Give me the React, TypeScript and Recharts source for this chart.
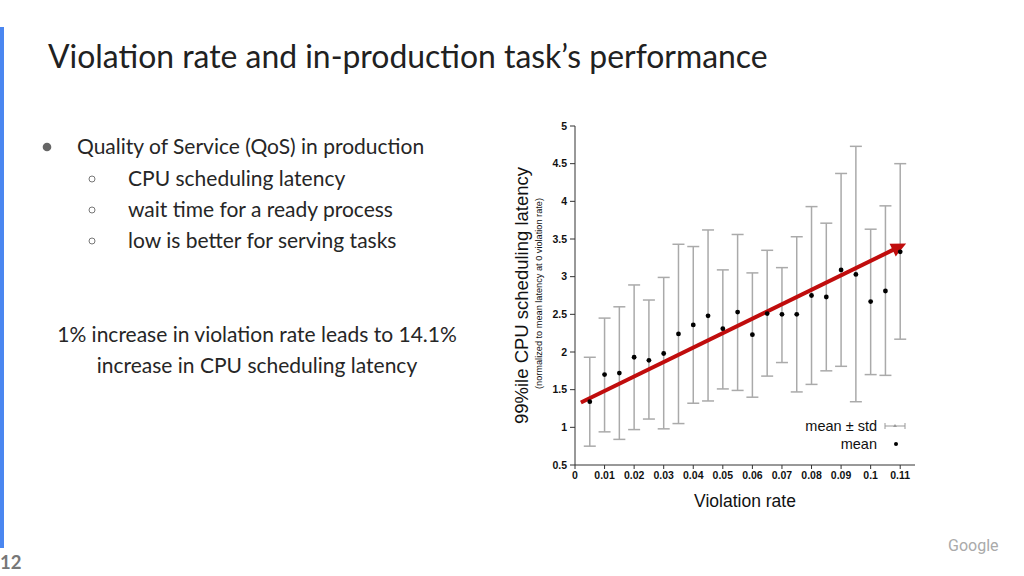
import {
  ErrorBar,
  Label,
  ReferenceLine,
  Scatter,
  ScatterChart,
  XAxis,
  YAxis,
} from "recharts";

// violation rate buckets and the latency stats
const violationRates = [
  0.005, 0.01, 0.015, 0.02, 0.025, 0.03, 0.035, 0.04, 0.045, 0.05, 0.055,
  0.06, 0.065, 0.07, 0.075, 0.08, 0.085, 0.09, 0.095, 0.1, 0.105, 0.11,
];
const meanLatency = [
  1.34, 1.7, 1.72, 1.93, 1.89, 1.98, 2.24, 2.36, 2.48, 2.31, 2.53, 2.23, 2.51,
  2.5, 2.5, 2.75, 2.73, 3.09, 3.03, 2.67, 2.81, 3.33,
];
const upperLatency = [
  1.93, 2.45, 2.6, 2.89, 2.69, 2.99, 3.43, 3.4, 3.62, 3.09, 3.56, 3.05, 3.35,
  3.12, 3.53, 3.93, 3.71, 4.37, 4.73, 3.63, 3.94, 4.5,
];
const lowerLatency = [
  0.75, 0.94, 0.84, 0.97, 1.11, 0.98, 1.05, 1.32, 1.35, 1.51, 1.49, 1.4, 1.68,
  1.86, 1.47, 1.57, 1.75, 1.81, 1.34, 1.7, 1.69, 2.17,
];

const xTicks = [0, 0.01, 0.02, 0.03, 0.04, 0.05, 0.06, 0.07, 0.08, 0.09, 0.1, 0.11];
const yTicks = [0.5, 1, 1.5, 2, 2.5, 3, 3.5, 4, 4.5, 5];

// hand-drawn trend arrow on the slide
const trendStart = { x: 0.002, y: 1.33 };
const trendEnd = { x: 0.112, y: 3.44 };

const bulletLines = [
  "CPU scheduling latency",
  "wait time for a ready process",
  "low is better for serving tasks",
];

const rows = violationRates.map((x, i) => ({
  x,
  mean: meanLatency[i],
  err: [meanLatency[i] - lowerLatency[i], upperLatency[i] - meanLatency[i]],
}));

const AXIS_FONT = "'Liberation Sans', Arial, sans-serif";
const SLIDE_FONT = "Lato, 'Open Sans', sans-serif";
const RED = "#c00d0d";

function TrendArrow(props: any) {
  const { x1, y1, x2, y2 } = props;
  if (x1 == null) return null;
  const ang = Math.atan2(y2 - y1, x2 - x1);
  const c = Math.cos(ang);
  const s = Math.sin(ang);
  const len = 15;
  const half = 7;
  const bx = x2 - len * c;
  const by = y2 - len * s;
  const pts = `${x2},${y2} ${bx - half * s},${by + half * c} ${bx + half * s},${by - half * c}`;
  return (
    <g>
      <line x1={x1} y1={y1} x2={bx + 1 * c} y2={by + 1 * s} stroke={RED} strokeWidth={4} />
      <polygon points={pts} fill={RED} />
    </g>
  );
}

function MeanDot(props: any) {
  const { cx, cy } = props;
  return <circle cx={cx} cy={cy} r={2.4} fill="#000" />;
}

function YTitle(props: any) {
  const vb = props.viewBox || { x: 0, y: 0, height: 0 };
  const cy = vb.y + vb.height / 2;
  const x1 = vb.x + 31;
  const x2 = vb.x + 49;
  return (
    <g fontFamily={AXIS_FONT}>
      <text
        x={x1}
        y={cy}
        transform={`rotate(-90 ${x1} ${cy})`}
        textAnchor="middle"
        dominantBaseline="central"
        fontSize={18.5}
        fill="#111"
      >
        99%ile CPU scheduling latency
      </text>
      <text
        x={x2}
        y={cy - 2}
        transform={`rotate(-90 ${x2} ${cy - 2})`}
        textAnchor="middle"
        dominantBaseline="central"
        fontSize={9.2}
        fill="#111"
      >
        (normalized to mean latency at 0 violation rate)
      </text>
    </g>
  );
}

function XTitle(props: any) {
  const vb = props.viewBox || { x: 0, y: 0, width: 0 };
  return (
    <text
      x={vb.x + vb.width / 2}
      y={vb.y + 36}
      textAnchor="middle"
      dominantBaseline="central"
      fontFamily={AXIS_FONT}
      fontSize={17.5}
      fill="#111"
    >
      Violation rate
    </text>
  );
}

const tickStyle = {
  fontFamily: AXIS_FONT,
  fontSize: 10.5,
  fontWeight: 700,
  fill: "#111",
};

export default function App() {
  return (
    <div
      style={{
        position: "absolute",
        left: 0,
        top: 0,
        width: 1024,
        height: 576,
        background: "#fff",
        overflow: "hidden",
      }}
    >
      <svg width={1024} height={576} style={{ position: "absolute", left: 0, top: 0 }}>
        <rect x={0} y={27} width={4} height={521} fill="#4a86f0" />
        <text x={48} y={68} fontFamily={SLIDE_FONT} fontSize={31.9} fill="#212121">
          Violation rate and in-production task’s performance
        </text>

        <circle cx={47} cy={147} r={4.3} fill="#666" />
        <text x={77} y={154} fontFamily={SLIDE_FONT} fontSize={21} fill="#262626">
          Quality of Service (QoS) in production
        </text>
        {bulletLines.map((t, i) => (
          <g key={t}>
            <circle cx={92} cy={179 + i * 31} r={3} fill="none" stroke="#777" strokeWidth={1} />
            <text x={128} y={186 + i * 31} fontFamily={SLIDE_FONT} fontSize={21} fill="#262626">
              {t}
            </text>
          </g>
        ))}

        <text x={257} y={342} textAnchor="middle" fontFamily={SLIDE_FONT} fontSize={21} fill="#262626">
          1% increase in violation rate leads to 14.1%
        </text>
        <text x={257} y={373} textAnchor="middle" fontFamily={SLIDE_FONT} fontSize={21} fill="#262626">
          increase in CPU scheduling latency
        </text>

        <text x={0} y={569} fontFamily={SLIDE_FONT} fontSize={18.5} fontWeight={700} fill="#777">
          12
        </text>
        <text x={948} y={551} fontFamily="Roboto, sans-serif" fontSize={16} fill="#aaa">
          Google
        </text>
      </svg>

      <div style={{ position: "absolute", left: 490, top: 110 }}>
        <ScatterChart
          width={440}
          height={420}
          margin={{ top: 16, right: 15, bottom: 15, left: 0 }}
        >
          <XAxis
            type="number"
            dataKey="x"
            domain={[0, 0.115]}
            ticks={xTicks}
            tickFormatter={(v: number) => String(v)}
            tick={tickStyle}
            tickSize={4}
            tickMargin={3}
            stroke="#333"
            height={50}
            allowDataOverflow
          >
            <Label content={XTitle} />
          </XAxis>
          <YAxis
            type="number"
            dataKey="mean"
            domain={[0.5, 5]}
            ticks={yTicks}
            tickFormatter={(v: number) => String(v)}
            tick={tickStyle}
            tickSize={5}
            tickMargin={3}
            stroke="#333"
            width={85}
            allowDataOverflow
          >
            <Label content={YTitle} />
          </YAxis>
          <Scatter data={rows} shape={MeanDot} isAnimationActive={false}>
            <ErrorBar
              dataKey="err"
              direction="y"
              width={6}
              stroke="#aaa"
              strokeWidth={1.5}
              isAnimationActive={false}
            />
          </Scatter>
          <ReferenceLine
            segment={[trendStart, trendEnd]}
            shape={TrendArrow}
            ifOverflow="visible"
          />
        </ScatterChart>
      </div>

      <svg width={1024} height={576} style={{ position: "absolute", left: 0, top: 0, pointerEvents: "none" }}>
        <g fontFamily={AXIS_FONT} fontSize={14.5} fill="#111" textAnchor="end">
          <text x={877} y={431}>mean ± std</text>
          <text x={877} y={449}>mean</text>
        </g>
        <line x1={885} y1={426} x2={905} y2={426} stroke="#999" strokeWidth={1} />
        <line x1={885} y1={423} x2={885} y2={429} stroke="#999" strokeWidth={1} />
        <line x1={905} y1={423} x2={905} y2={429} stroke="#999" strokeWidth={1} />
        <polygon points="895,424 893,427 897,427" fill="#999" />
        <circle cx={896} cy={444} r={2} fill="#000" />
      </svg>
    </div>
  );
}
